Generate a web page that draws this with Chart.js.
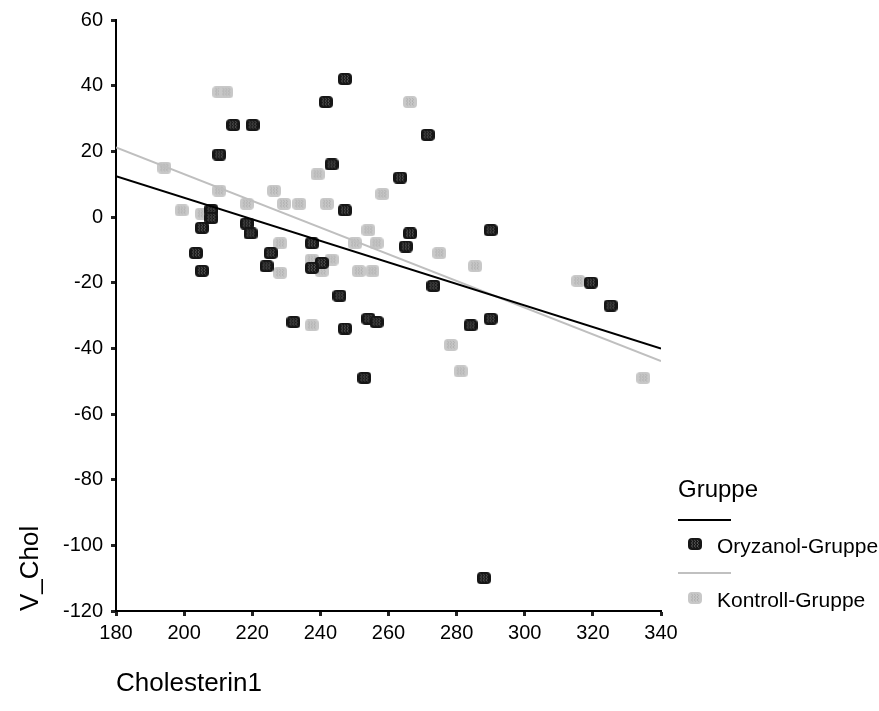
<!DOCTYPE html>
<html>
<head>
<meta charset="utf-8">
<script src="https://cdn.jsdelivr.net/npm/chart.js@4/dist/chart.umd.min.js"></script>
<style>
  html, body { margin: 0; padding: 0; background: #fff; }
  #wrap { position: relative; width: 879px; height: 711px; font-family: "Liberation Sans", Arial, sans-serif; color: #000; }
  #c { position: absolute; left: 0; top: 0; }
  .lg { position: absolute; white-space: nowrap; }
</style>
</head>
<body>
<div id="wrap">
  <canvas id="c" width="879" height="711"></canvas>
  <div class="lg" style="left:678px; top:477px; font-size:24px; line-height:24px;">Gruppe</div>
  <div class="lg" style="left:678px; top:519px; width:53px; height:2px; background:#000;"></div>
  <div class="lg" id="iconO" style="left:688px; top:536px;"></div>
  <div class="lg" style="left:717px; top:535px; font-size:21px; line-height:21px;">Oryzanol-Gruppe</div>
  <div class="lg" style="left:678px; top:572px; width:53px; height:2px; background:#c0c0c0;"></div>
  <div class="lg" id="iconK" style="left:688px; top:590px;"></div>
  <div class="lg" style="left:717px; top:589px; font-size:21px; line-height:21px;">Kontroll-Gruppe</div>
</div>
<script>
// ---- data ----
const xTickValues = [180, 200, 220, 240, 260, 280, 300, 320, 340];
const yTickValues = [-120, -100, -80, -60, -40, -20, 0, 20, 40, 60];

const oryzanolX = [247.2, 241.6, 271.5, 214.4, 220.1, 210.3, 243.3, 263.4, 247.2, 208.0, 208.0, 205.2,
                   218.4, 219.5, 225.4, 203.5, 224.2, 205.2, 232.1, 266.3, 265.1, 237.5, 240.4, 237.5,
                   273.2, 245.6, 254.1, 256.5, 247.2, 284.1, 252.9, 290.0, 319.4, 325.2, 290.0, 288.0];
const oryzanolY = [42, 35, 25, 28, 28, 19, 16, 12, 2, 2.1, -0.3, -3.3,
                   -2, -5, -11, -11, -15, -16.4, -32, -5, -9, -8, -14, -15.5,
                   -21, -24, -31, -32, -34, -33, -49, -4, -20, -27, -31, -110];

const kontrollX = [210.3, 212.4, 194.2, 210.3, 226.4, 218.4, 229.3, 233.8, 241.9, 199.3, 205.2, 228.2,
                   228.2, 266.3, 239.2, 258.2, 254.1, 250.2, 256.5, 274.9, 237.5, 243.3, 240.4, 251.3,
                   255.3, 285.4, 237.5, 278.3, 281.2, 315.7, 334.8];
const kontrollY = [38, 38, 15, 8, 8, 4, 4, 4, 4, 2, 1, -8,
                   -17, 35, 13, 7, -4, -8, -8, -11, -13, -13, -16.5, -16.5,
                   -16.5, -15, -33, -39, -47, -19.5, -49];

const fitX = [180, 340];
const fitOryzanolY = [12.4, -40.1];
const fitKontrollY = [21.2, -43.9];

// ---- marker images (rounded square with wavy hatch) ----
function makeMarker(fill, hatch, w, h) {
  const c = document.createElement('canvas');
  c.width = w; c.height = h;
  const g = c.getContext('2d');
  const r = 4;
  g.fillStyle = fill;
  g.beginPath();
  g.moveTo(r, 0); g.lineTo(w - r, 0); g.quadraticCurveTo(w, 0, w, r);
  g.lineTo(w, h - r); g.quadraticCurveTo(w, h, w - r, h);
  g.lineTo(r, h); g.quadraticCurveTo(0, h, 0, h - r);
  g.lineTo(0, r); g.quadraticCurveTo(0, 0, r, 0);
  g.closePath(); g.fill();
  g.strokeStyle = hatch; g.lineWidth = 0.8;
  [w * 0.3, w * 0.5, w * 0.7].forEach(function (cx) {
    g.beginPath();
    let left = true;
    for (let y = 2; y <= h - 2; y += 1.5) {
      const xx = cx + (left ? -0.9 : 0.9);
      if (y === 2) g.moveTo(xx, y); else g.lineTo(xx, y);
      left = !left;
    }
    g.stroke();
  });
  return c;
}
const markerO = makeMarker('#161616', '#6a6a6a', 14, 12);
const markerK = makeMarker('#c8c8c8', '#a9a9a9', 14, 12);
document.getElementById('iconO').appendChild(makeMarker('#161616', '#6a6a6a', 14, 12));
document.getElementById('iconK').appendChild(makeMarker('#c8c8c8', '#a9a9a9', 14, 12));

function pts(xs, ys) { return xs.map(function (x, i) { return { x: x, y: ys[i] }; }); }

const FONT = '"Liberation Sans", Arial, sans-serif';

new Chart(document.getElementById('c'), {
  type: 'scatter',
  data: {
    datasets: [
      { type: 'line', label: 'Fit Oryzanol', data: pts(fitX, fitOryzanolY), borderColor: '#000000', borderWidth: 2, pointRadius: 0, fill: false, tension: 0 },
      { type: 'line', label: 'Fit Kontroll', data: pts(fitX, fitKontrollY), borderColor: '#bfbfbf', borderWidth: 2, pointRadius: 0, fill: false, tension: 0 },
      { label: 'Oryzanol-Gruppe', data: pts(oryzanolX, oryzanolY), pointStyle: markerO, pointRadius: 7, pointHoverRadius: 7 },
      { label: 'Kontroll-Gruppe', data: pts(kontrollX, kontrollY), pointStyle: markerK, pointRadius: 7, pointHoverRadius: 7 }
    ]
  },
  options: {
    responsive: false,
    animation: false,
    events: [],
    layout: { padding: { top: 17, right: 218, left: 0, bottom: 0 } },
    plugins: { legend: { display: false }, tooltip: { enabled: false } },
    scales: {
      x: {
        type: 'linear', min: 180, max: 340,
        afterFit: function (s) { s.height = 100; },
        afterBuildTicks: function (s) { s.ticks = xTickValues.map(function (v) { return { value: v }; }); },
        grid: { drawOnChartArea: false, drawTicks: true, tickLength: 5, tickWidth: 3, tickColor: '#222' },
        border: { display: true, color: '#000', width: 2 },
        ticks: { color: '#000', padding: 5, font: { family: FONT, size: 20 } },
        title: { display: true, text: 'Cholesterin1', align: 'start', color: '#000', padding: { top: 0, bottom: 12 }, font: { family: FONT, size: 26 } }
      },
      y: {
        type: 'linear', min: -120, max: 60,
        afterFit: function (s) { s.width = 116; },
        afterBuildTicks: function (s) { s.ticks = yTickValues.map(function (v) { return { value: v }; }); },
        grid: { drawOnChartArea: false, drawTicks: true, tickLength: 5, tickWidth: 3, tickColor: '#222' },
        border: { display: true, color: '#000', width: 2 },
        ticks: { color: '#000', padding: 8, font: { family: FONT, size: 20 } },
        title: { display: true, text: 'V_Chol', align: 'start', color: '#000', padding: { top: 15, bottom: 0 }, font: { family: FONT, size: 26 } }
      }
    }
  }
});
</script>
</body>
</html>
